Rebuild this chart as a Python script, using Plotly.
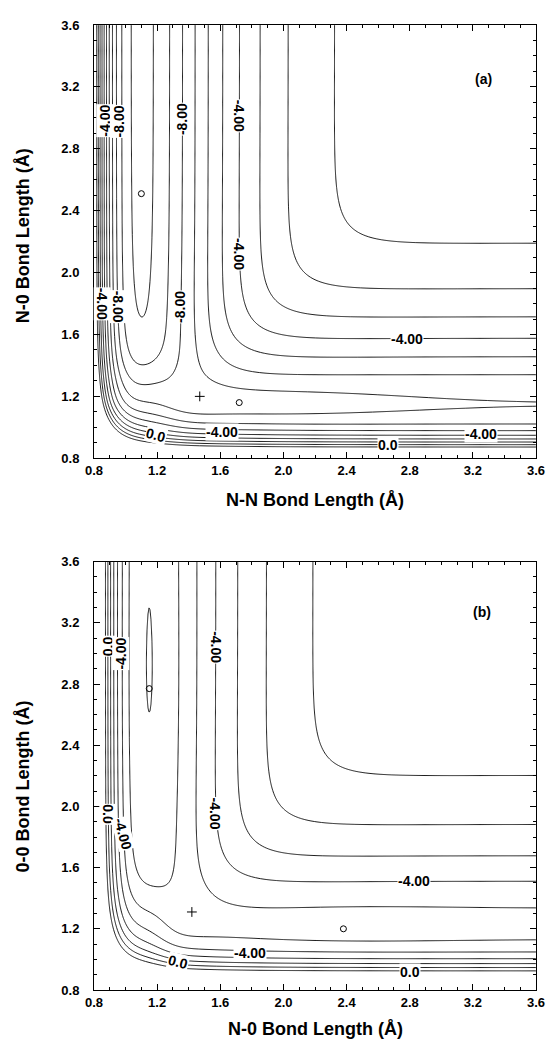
import numpy as np
import plotly.graph_objects as go

# ---------------- data ----------------
# diatomic Morse parameters (D in eV, re in Angstrom, beta in 1/Angstrom)
N2_MORSE = [10.3, 1.10, 2.45]
NO_MORSE_A = [7.005, 1.15, 2.5]
NO_MORSE_B = [6.95, 1.15, 2.5]
O2_MORSE = [5.3, 1.22, 2.35]
SATO_A = [0.1, 0.1, 0.0]
SATO_B = [0.1, 0.1, 0.0]
# local wells / bumps on the surfaces: x, y, height (eV), width x, width y
WELLS_A = [[1.72, 1.16, -0.50, 0.90, 0.12], [1.15, 1.15, 1.40, 0.20, 0.25]]
WELLS_B = [[2.38, 1.21, -0.15, 0.80, 0.15], [1.15, 2.80, -0.08, 0.20, 0.816],
           [1.15, 1.20, 1.00, 0.15, 0.30]]

LEVELS_A = [-10, -9, -8, -7, -6, -5, -4, -3, -2, -1, 0]
LEVELS_B = [-7, -6, -5, -4, -3, -2, -1, 0]

AXIS_RANGE = [0.8, 3.6]
TICK_VALUES = [0.8, 1.2, 1.6, 2.0, 2.4, 2.8, 3.2, 3.6]
TICK_LABELS = ["0.8", "1.2", "1.6", "2.0", "2.4", "2.8", "3.2", "3.6"]

# stationary points: saddle (+) and minima (o)
SADDLE_A_X, SADDLE_A_Y = [1.47], [1.20]
MIN_A_X, MIN_A_Y = [1.10, 1.72], [2.51, 1.16]
SADDLE_B_X, SADDLE_B_Y = [1.42], [1.31]
MIN_B_X, MIN_B_Y = [1.15, 2.38], [2.77, 1.20]

# contour labels: text, x, y, angle
LAB_A_TEXT = ["-4.00", "-8.00", "-8.00", "-4.00", "-4.00", "-4.00", "-8.00", "-8.00",
              "-4.00", "-4.00", "-4.00", "0.0", "0.0"]
LAB_A_X = [0.868, 0.955, 1.362, 1.715, 1.718, 0.855, 0.952, 1.34, 2.78, 1.61, 3.25, 1.19, 2.66]
LAB_A_Y = [2.98, 2.98, 2.99, 3.01, 2.12, 1.80, 1.78, 1.78, 1.572, 0.97, 0.955, 0.95, 0.885]
LAB_A_ANG = [-90, -90, -90, 90, 90, 90, 90, -90, 0, 0, 0, 15, 0]

LAB_B_TEXT = ["0.0", "-4.00", "-4.00", "0.0", "-4.00", "-4.00", "-4.00", "-4.00", "0.0", "0.0"]
LAB_B_X = [0.885, 0.972, 1.574, 0.887, 0.985, 1.565, 2.83, 1.79, 1.33, 2.80]
LAB_B_Y = [3.05, 3.00, 3.04, 1.95, 1.82, 1.955, 1.51, 1.04, 0.98, 0.92]
LAB_B_ANG = [-90, -90, 90, 90, 75, 90, 0, 0, 15, 0]

X_TITLE_A = "N-N Bond Length (Å)"
Y_TITLE_A = "N-0 Bond Length (Å)"
X_TITLE_B = "N-0 Bond Length (Å)"
Y_TITLE_B = "0-0 Bond Length (Å)"


# ---------------- model surface (extended LEPS) ----------------
def coulomb_exchange(r, D, re, b, d):
    e1 = np.exp(-b * (r - re))
    e2 = e1 * e1
    q = D / 4 * ((3 + d) * e2 - (2 + 6 * d) * e1) / (1 + d)
    j = D / 4 * ((1 + 3 * d) * e2 - (6 + 2 * d) * e1) / (1 + d)
    return q, j


def surface(x, y, p_ab, p_bc, p_ac, sato, wells):
    q1, j1 = coulomb_exchange(x, *p_ab, sato[0])
    q2, j2 = coulomb_exchange(y, *p_bc, sato[1])
    q3, j3 = coulomb_exchange(x + y, *p_ac, sato[2])
    v = q1 + q2 + q3 - np.sqrt(np.maximum(
        j1 * j1 + j2 * j2 + j3 * j3 - j1 * j2 - j2 * j3 - j3 * j1, 0.0))
    for cx, cy, amp, sx, sy in wells:
        v = v + amp * np.exp(-((x - cx) / sx) ** 2 - ((y - cy) / sy) ** 2)
    return v


grid = np.linspace(AXIS_RANGE[0], AXIS_RANGE[1], 451)
GX, GY = np.meshgrid(grid, grid)
Z_A = surface(GX, GY, N2_MORSE, NO_MORSE_A, NO_MORSE_A, SATO_A, WELLS_A)
Z_B = surface(GX, GY, NO_MORSE_B, O2_MORSE, NO_MORSE_B, SATO_B, WELLS_B)

FONT = "Liberation Sans"
fig = go.Figure()


def add_panel(z, levels, xa, ya):
    fig.add_trace(go.Contour(
        x=grid, y=grid, z=z, xaxis=xa, yaxis=ya,
        contours=dict(start=levels[0], end=levels[-1], size=levels[1] - levels[0], coloring="lines"),
        colorscale=[[0, "black"], [1, "black"]], showscale=False,
        line=dict(width=0.9, smoothing=1.0), hoverinfo="skip"))


add_panel(Z_A, LEVELS_A, "x", "y")
add_panel(Z_B, LEVELS_B, "x2", "y2")

for sx_, sy_, mx_, my_, xa, ya in ((SADDLE_A_X, SADDLE_A_Y, MIN_A_X, MIN_A_Y, "x", "y"),
                                   (SADDLE_B_X, SADDLE_B_Y, MIN_B_X, MIN_B_Y, "x2", "y2")):
    fig.add_trace(go.Scatter(x=sx_, y=sy_, xaxis=xa, yaxis=ya, mode="markers", showlegend=False,
                             marker=dict(symbol="cross-thin", size=7, line=dict(width=1, color="black")),
                             hoverinfo="skip"))
    fig.add_trace(go.Scatter(x=mx_, y=my_, xaxis=xa, yaxis=ya, mode="markers", showlegend=False,
                             marker=dict(symbol="circle-open", size=6, color="black",
                                         line=dict(width=1, color="black")),
                             hoverinfo="skip"))

annotations = []
for texts, xs, ys, angs, xr, yr in ((LAB_A_TEXT, LAB_A_X, LAB_A_Y, LAB_A_ANG, "x", "y"),
                                    (LAB_B_TEXT, LAB_B_X, LAB_B_Y, LAB_B_ANG, "x2", "y2")):
    for t, lx, ly, a in zip(texts, xs, ys, angs):
        annotations.append(dict(text=t, x=lx, y=ly, xref=xr, yref=yr, showarrow=False,
                                textangle=a, bgcolor="white", borderpad=0,
                                font=dict(family=FONT, size=14, color="black", weight="bold")))
annotations.append(dict(text="(a)", x=3.27, y=3.25, xref="x", yref="y", showarrow=False,
                        font=dict(family=FONT, size=14, color="black", weight="bold")))
annotations.append(dict(text="(b)", x=3.26, y=3.27, xref="x2", yref="y2", showarrow=False,
                        font=dict(family=FONT, size=14, color="black", weight="bold")))

title_font = dict(family=FONT, size=18, color="black", weight="bold")
annotations += [
    dict(text=X_TITLE_A, x=0.5, y=0.5077, xref="paper", yref="paper", showarrow=False,
         xanchor="center", yanchor="middle", font=title_font),
    dict(text=Y_TITLE_A, x=-0.16, y=0.7815, xref="paper", yref="paper", showarrow=False,
         textangle=-90, xanchor="center", yanchor="middle", font=title_font),
    dict(text=X_TITLE_B, x=0.5, y=-0.040, xref="paper", yref="paper", showarrow=False,
         xanchor="center", yanchor="middle", font=title_font),
    dict(text=Y_TITLE_B, x=-0.16, y=0.2111, xref="paper", yref="paper", showarrow=False,
         textangle=-90, xanchor="center", yanchor="middle", font=title_font),
]

axis_style = dict(
    range=AXIS_RANGE, tickmode="array", tickvals=TICK_VALUES, ticktext=TICK_LABELS,
    ticks="inside", ticklen=6, tickwidth=1, tickcolor="black",
    minor=dict(ticks="inside", ticklen=3, tickwidth=1, tickcolor="black",
               tickmode="linear", tick0=0.8, dtick=0.1, showgrid=False),
    showline=True, linecolor="black", linewidth=1, mirror="ticks",
    showgrid=False, zeroline=False,
    tickfont=dict(family=FONT, size=13, color="black", weight="bold"))

# the page adds an 8 px body margin, so the figure is 8 px smaller on each axis
fig.update_layout(
    width=547, height=1034, margin=dict(l=86, r=10, t=11, b=52),
    paper_bgcolor="white", plot_bgcolor="white", showlegend=False,
    xaxis=dict(axis_style, domain=[0, 1], anchor="y"),
    yaxis=dict(axis_style, domain=[0.5510, 1.0], anchor="x", ticklabelstandoff=11),
    xaxis2=dict(axis_style, domain=[0, 1], anchor="y2"),
    yaxis2=dict(axis_style, domain=[0.0, 0.4439], anchor="x2", ticklabelstandoff=11),
    annotations=annotations)

fig.write_html("out.html")
